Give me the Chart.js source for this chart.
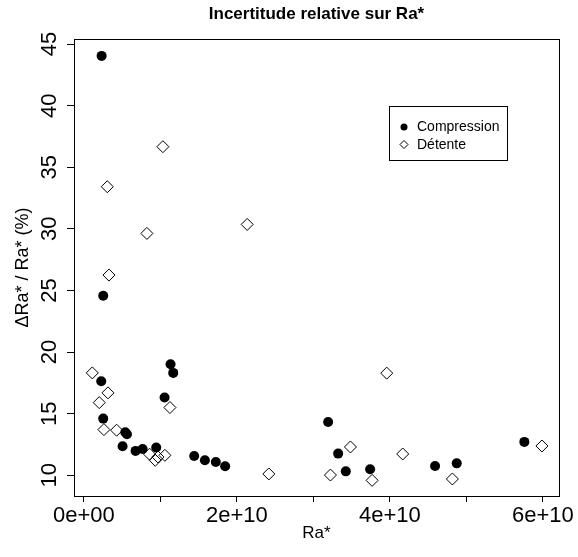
<!DOCTYPE html>
<html>
<head>
<meta charset="utf-8">
<script src="https://cdn.jsdelivr.net/npm/chart.js@4.4.1/dist/chart.umd.min.js"></script>
<style>
  html, body { margin: 0; padding: 0; background: #fff; }
</style>
</head>
<body>
<canvas id="chart" width="578" height="557"></canvas>
<script>
// --- DATA ---
const titleText = 'Incertitude relative sur Ra*';
const xTitle = 'Ra*';
const yTitle = 'ΔRa* / Ra* (%)';

const seriesNames = ['Compression', 'Détente'];

const compressionX = [0.231e10, 0.252e10, 0.226e10, 0.252e10, 0.540e10, 0.562e10, 0.505e10, 0.675e10,
  0.767e10, 0.945e10, 1.054e10, 1.132e10, 1.167e10, 1.441e10, 1.581e10, 1.724e10, 1.846e10,
  3.192e10, 3.323e10, 3.423e10, 3.741e10, 4.590e10, 4.873e10, 5.757e10];
const compressionY = [44.04, 24.57, 17.64, 14.60, 13.49, 13.33, 12.36, 11.98,
  12.14, 12.25, 16.31, 19.02, 18.31, 11.57, 11.22, 11.08, 10.73,
  14.33, 11.76, 10.32, 10.49, 10.76, 10.97, 12.71];

const detenteX = [0.305e10, 1.032e10, 0.823e10, 2.134e10, 0.327e10, 0.109e10, 0.314e10, 0.200e10,
  0.261e10, 0.427e10, 0.858e10, 0.932e10, 0.967e10, 1.058e10, 1.124e10, 2.417e10,
  3.958e10, 3.484e10, 3.222e10, 3.767e10, 4.167e10, 4.816e10, 5.987e10];
const detenteY = [33.42, 36.67, 29.63, 30.36, 26.25, 18.31, 16.69, 15.90,
  13.71, 13.66, 11.71, 11.22, 11.49, 11.62, 15.50, 10.11,
  18.29, 12.30, 10.02, 9.59, 11.73, 9.70, 12.38];

const xTickValues = [0, 1e10, 2e10, 3e10, 4e10, 5e10, 6e10];
const xTickLabels = ['0e+00', '', '2e+10', '', '4e+10', '', '6e+10'];
const yTickValues = [10, 15, 20, 25, 30, 35, 40, 45];
const yTickLabels = ['10', '15', '20', '25', '30', '35', '40', '45'];

const xMin = -0.13e10, xMax = 6.21e10;
const yMin = 8.32, yMax = 45.41;

// --- STYLE ---
const FONT = "'Liberation Sans', Arial, sans-serif";
Chart.defaults.font.family = FONT;
Chart.defaults.color = '#000';

const toPoints = (xs, ys) => xs.map((x, i) => ({ x: x, y: ys[i] }));

// box around the plot region
const boxPlugin = {
  id: 'box',
  afterDraw(chart) {
    const { ctx, chartArea: a } = chart;
    ctx.save();
    ctx.strokeStyle = '#000';
    ctx.lineWidth = 1;
    ctx.strokeRect(Math.round(a.left) + 0.5, Math.round(a.top) + 0.5,
      Math.round(a.right - a.left), Math.round(a.bottom - a.top));
    ctx.restore();
  }
};

// legend box inside the plot, like R's legend()
const legendPlugin = {
  id: 'rlegend',
  afterDraw(chart) {
    const ctx = chart.ctx;
    const styles = [
      { pointStyle: 'circle', radius: 3.5, fill: '#000', border: 0 },
      { pointStyle: 'rectRot', radius: 4, fill: 'rgba(0,0,0,0)', border: 1 }
    ];
    ctx.save();
    ctx.strokeStyle = '#000';
    ctx.lineWidth = 1;
    ctx.strokeRect(389.5, 106.5, 118, 54);
    ctx.font = '14px ' + FONT;
    ctx.textBaseline = 'middle';
    ctx.fillStyle = '#000';
    seriesNames.forEach((name, i) => {
      const y = 127 + i * 17.5;
      const s = styles[i];
      ctx.fillStyle = s.fill;
      ctx.strokeStyle = '#000';
      ctx.lineWidth = s.border;
      Chart.helpers.drawPoint(ctx, { pointStyle: s.pointStyle, radius: s.radius, borderWidth: s.border }, 404, y);
      ctx.fillStyle = '#000';
      ctx.fillText(name, 417, y + 0.5);
    });
    ctx.restore();
  }
};

new Chart(document.getElementById('chart'), {
  type: 'scatter',
  data: {
    datasets: [
      {
        label: seriesNames[0],
        data: toPoints(compressionX, compressionY),
        pointStyle: 'circle',
        pointRadius: 5,
        backgroundColor: '#000',
        borderColor: '#000',
        borderWidth: 0
      },
      {
        label: seriesNames[1],
        data: toPoints(detenteX, detenteY),
        pointStyle: 'rectRot',
        pointRadius: 6,
        backgroundColor: 'rgba(0,0,0,0)',
        borderColor: '#000',
        borderWidth: 1
      }
    ]
  },
  options: {
    responsive: false,
    animation: false,
    layout: { padding: { left: 0, right: 19, top: 0, bottom: 0 } },
    plugins: {
      legend: { display: false },
      tooltip: { enabled: false },
      title: {
        display: true,
        text: titleText,
        fullSize: false,
        color: '#000',
        font: { family: FONT, size: 17, weight: 'bold' },
        padding: { top: 4, bottom: 14.6 }
      }
    },
    scales: {
      x: {
        type: 'linear',
        min: xMin,
        max: xMax,
        afterBuildTicks: s => { s.ticks = xTickValues.map(v => ({ value: v })); },
        afterFit: s => { s.height = 61; },
        ticks: {
          callback: (v, i) => xTickLabels[i],
          autoSkip: false,
          maxRotation: 0,
          padding: 1,
          color: '#000',
          font: { family: FONT, size: 22 }
        },
        grid: { drawOnChartArea: false, tickLength: 6, color: '#000' },
        border: { display: false },
        title: {
          display: true,
          text: xTitle,
          color: '#000',
          font: { family: FONT, size: 17 },
          padding: { top: 0, bottom: 13.5 }
        }
      },
      y: {
        type: 'linear',
        min: yMin,
        max: yMax,
        afterBuildTicks: s => { s.ticks = yTickValues.map(v => ({ value: v })); },
        afterFit: s => { s.width = 74; },
        ticks: {
          callback: (v, i) => yTickLabels[i],
          autoSkip: false,
          minRotation: 90,
          maxRotation: 90,
          crossAlign: 'center',
          padding: 5,
          color: '#000',
          font: { family: FONT, size: 22 }
        },
        grid: { drawOnChartArea: false, tickLength: 7, color: '#000' },
        border: { display: false },
        title: {
          display: true,
          text: yTitle,
          color: '#000',
          font: { family: FONT, size: 18 },
          padding: { top: 12, bottom: 0 }
        }
      }
    }
  },
  plugins: [boxPlugin, legendPlugin]
});
</script>
</body>
</html>
